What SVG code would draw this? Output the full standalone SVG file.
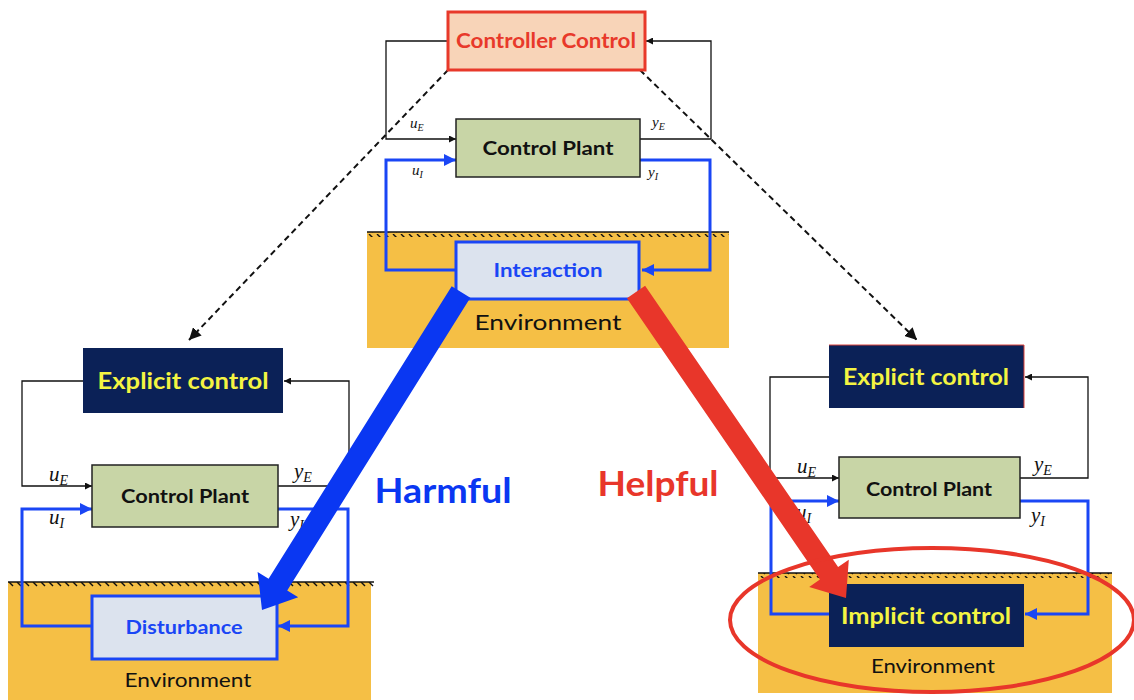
<svg xmlns="http://www.w3.org/2000/svg" width="1134" height="700" viewBox="0 0 1134 700">
  <defs>
    <style>
      .lbl { font-family: Lato, "Open Sans", "Liberation Sans", sans-serif; font-weight: bold; text-anchor: middle; }
      .env { font-family: Lato, "Open Sans", "Liberation Sans", sans-serif; font-weight: normal; text-anchor: middle; fill: #111; }
      .math { font-family: "Liberation Serif", "DejaVu Serif", serif; font-style: italic; fill: #111; }
      .plant { fill: #c8d5a6; stroke: #222; stroke-width: 1.5; }
      .navy { fill: #0b2157; }
      .ground { fill: #f5bf45; }
      .wire { fill: none; stroke: #111; stroke-width: 1.3; }
      .bwire { fill: none; stroke: #1a46f5; stroke-width: 3; }
      .dash { fill: none; stroke: #111; stroke-width: 2; stroke-dasharray: 6 4; }
    </style>
    <marker id="ah" viewBox="0 0 10 10" refX="10" refY="5" markerWidth="7" markerHeight="7" markerUnits="userSpaceOnUse" orient="auto">
      <path d="M0,0 L10,5 L0,10 z" fill="#111"/>
    </marker>
    <marker id="ahb" viewBox="0 0 10 10" refX="10" refY="5" markerWidth="12" markerHeight="12" markerUnits="userSpaceOnUse" orient="auto">
      <path d="M0,0 L10,5 L0,10 z" fill="#1a46f5"/>
    </marker>
    <marker id="ahd" viewBox="0 0 10 10" refX="10" refY="5" markerWidth="12" markerHeight="12" markerUnits="userSpaceOnUse" orient="auto">
      <path d="M0,0 L10,5 L0,10 z" fill="#111"/>
    </marker>
    <pattern id="hatch" x="0" y="0" width="8" height="6" patternUnits="userSpaceOnUse">
      <line x1="1" y1="0" x2="5" y2="4" stroke="#111" stroke-width="1.4"/>
    </pattern>
  </defs>

  <rect width="1134" height="700" fill="#fff"/>

  <!-- ground slabs -->
  <g id="ground-top">
    <rect class="ground" x="367" y="232" width="362" height="116"/>
    <rect x="367" y="232" width="362" height="5" fill="url(#hatch)"/>
    <line x1="367" y1="232" x2="729" y2="232" stroke="#111" stroke-width="1.5"/>
  </g>
  <g id="ground-left">
    <rect class="ground" x="8" y="582" width="363" height="118"/>
    <rect x="8" y="582" width="366" height="5" fill="url(#hatch)"/>
    <line x1="8" y1="582" x2="374" y2="582" stroke="#111" stroke-width="1.5"/>
  </g>
  <g id="ground-right">
    <rect class="ground" x="758" y="573" width="354" height="120"/>
    <rect x="758" y="573" width="354" height="5" fill="url(#hatch)"/>
    <line x1="758" y1="573" x2="1112" y2="573" stroke="#111" stroke-width="1.5"/>
  </g>

  <!-- connectors -->
  <g id="connectors">
    <!-- top loop -->
    <path class="wire" d="M448,41 H386 V139 H456" marker-end="url(#ah)"/>
    <path class="wire" d="M640,139 H711 V41 H646" marker-end="url(#ah)"/>
    <path class="bwire" d="M456,270 H386 V160 H456" marker-end="url(#ahb)"/>
    <path class="bwire" d="M640,160 H710 V270 H642" marker-end="url(#ahb)"/>
    <!-- left loop -->
    <path class="wire" d="M83,381 H22 V486 H92" marker-end="url(#ah)"/>
    <path class="wire" d="M278,486 H349 V381 H284" marker-end="url(#ah)"/>
    <path class="bwire" d="M92,626 H22 V509 H92" marker-end="url(#ahb)"/>
    <path class="bwire" d="M278,509 H348 V626 H278" marker-end="url(#ahb)"/>
    <!-- right loop -->
    <path class="wire" d="M829,377 H770 V478 H839" marker-end="url(#ah)"/>
    <path class="wire" d="M1020,478 H1088 V377 H1025" marker-end="url(#ah)"/>
    <path class="bwire" d="M829,614 H771 V501 H839" marker-end="url(#ahb)"/>
    <path class="bwire" d="M1020,501 H1088 V614 H1025" marker-end="url(#ahb)"/>
    <!-- dashed hierarchy links -->
    <path class="dash" d="M448,70 L189,340" marker-end="url(#ahd)"/>
    <path class="dash" d="M640,70 L917,340" marker-end="url(#ahd)"/>
  </g>

  <!-- signal labels -->
  <g id="signals">
    <text class="math" x="410" y="128" font-size="15">u<tspan font-size="10" dy="3">E</tspan></text>
    <text class="math" x="652" y="127" font-size="15">y<tspan font-size="10" dy="3">E</tspan></text>
    <text class="math" x="412" y="175" font-size="15">u<tspan font-size="10" dy="3">I</tspan></text>
    <text class="math" x="648" y="177" font-size="15">y<tspan font-size="10" dy="3">I</tspan></text>

    <text class="math" x="49" y="481" font-size="21">u<tspan font-size="14" dy="4">E</tspan></text>
    <text class="math" x="294" y="478" font-size="21">y<tspan font-size="14" dy="4">E</tspan></text>
    <text class="math" x="49" y="524" font-size="21">u<tspan font-size="14" dy="4">I</tspan></text>
    <text class="math" x="290" y="526" font-size="21">y<tspan font-size="14" dy="4">I</tspan></text>

    <text class="math" x="797" y="473" font-size="21">u<tspan font-size="14" dy="4">E</tspan></text>
    <text class="math" x="1034" y="471" font-size="21">y<tspan font-size="14" dy="4">E</tspan></text>
    <text class="math" x="796" y="519" font-size="21">u<tspan font-size="14" dy="4">I</tspan></text>
    <text class="math" x="1031" y="522" font-size="21">y<tspan font-size="14" dy="4">I</tspan></text>
  </g>

  <!-- top level -->
  <g id="controller">
    <rect x="448" y="12" width="197" height="58" fill="#f8d4b8" stroke="#e8392a" stroke-width="3"/>
    <text class="lbl" x="546" y="48" font-size="20" fill="#e8392a" textLength="180" lengthAdjust="spacingAndGlyphs">Controller Control</text>
  </g>
  <g id="plant-top">
    <rect class="plant" x="456" y="119" width="184" height="58"/>
    <text class="lbl" x="548" y="155" font-size="19" fill="#111" textLength="131" lengthAdjust="spacingAndGlyphs">Control Plant</text>
  </g>
  <g id="interaction">
    <rect x="456" y="242" width="183" height="57" fill="#dce3ee" stroke="#1a46f5" stroke-width="3"/>
    <text class="lbl" x="548" y="277" font-size="18" fill="#1a46f5" textLength="109" lengthAdjust="spacingAndGlyphs">Interaction</text>
  </g>
  <text class="env" x="548" y="330" font-size="21" textLength="147" lengthAdjust="spacingAndGlyphs">Environment</text>

  <!-- left branch -->
  <g id="explicit-left">
    <rect class="navy" x="83" y="348" width="200" height="65"/>
    <text class="lbl" x="183" y="389" font-size="22" fill="#f4f442" textLength="171" lengthAdjust="spacingAndGlyphs">Explicit control</text>
  </g>
  <g id="plant-left">
    <rect class="plant" x="92" y="465" width="186" height="62"/>
    <text class="lbl" x="185" y="503" font-size="19" fill="#111" textLength="128" lengthAdjust="spacingAndGlyphs">Control Plant</text>
  </g>
  <g id="disturbance">
    <rect x="92" y="596" width="185" height="63" fill="#dce3ee" stroke="#1a46f5" stroke-width="3"/>
    <text class="lbl" x="184" y="634" font-size="19" fill="#1a46f5" textLength="117" lengthAdjust="spacingAndGlyphs">Disturbance</text>
  </g>
  <text class="env" x="188" y="687" font-size="20" textLength="127" lengthAdjust="spacingAndGlyphs">Environment</text>

  <!-- right branch -->
  <g id="explicit-right">
    <rect class="navy" x="829" y="345" width="195" height="63"/>
    <path d="M829,345 H1024 V408" fill="none" stroke="#d9433a" stroke-width="1"/>
    <text class="lbl" x="926" y="385" font-size="22" fill="#f4f442" textLength="166" lengthAdjust="spacingAndGlyphs">Explicit control</text>
  </g>
  <g id="plant-right">
    <rect class="plant" x="839" y="457" width="181" height="61"/>
    <text class="lbl" x="929" y="496" font-size="19" fill="#111" textLength="126" lengthAdjust="spacingAndGlyphs">Control Plant</text>
  </g>
  <g id="implicit">
    <rect class="navy" x="829" y="584" width="195" height="63"/>
    <text class="lbl" x="926" y="624" font-size="22" fill="#f4f442" textLength="170" lengthAdjust="spacingAndGlyphs">Implicit control</text>
  </g>
  <text class="env" x="933" y="673" font-size="20" textLength="124" lengthAdjust="spacingAndGlyphs">Environment</text>

  <!-- outcome arrows -->
  <g id="harmful">
    <polygon points="451.7,286.2 470.3,297.8 287.2,590.4 298.2,597.3 262,610 257.6,571.9 268.6,578.8" fill="#0a37f2"/>
    <text class="lbl" x="443" y="503" font-size="34" fill="#0a37f2" textLength="137" lengthAdjust="spacingAndGlyphs">Harmful</text>
  </g>
  <g id="helpful">
    <polygon points="645.1,285.8 838.1,567.1 848.8,559.7 846,598 809.2,586.9 819.9,579.5 626.9,298.2" fill="#e8362a"/>
    <text class="lbl" x="658" y="496" font-size="34" fill="#e8362a" textLength="121" lengthAdjust="spacingAndGlyphs">Helpful</text>
  </g>

  <!-- highlight ring -->
  <ellipse id="highlight" cx="932" cy="620" rx="202" ry="72" fill="none" stroke="#e8362a" stroke-width="4"/>
</svg>
